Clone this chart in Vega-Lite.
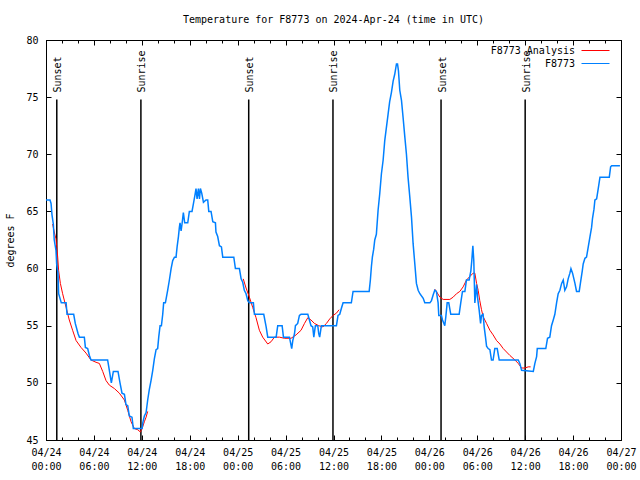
{
  "$schema": "https://vega.github.io/schema/vega-lite/v6.json",
  "width": 575,
  "height": 400,
  "autosize": {"type": "none"},
  "padding": {"left": 46, "top": 40, "right": 19, "bottom": 40},
  "background": "white",
  "title": {"text": "Temperature for F8773 on 2024-Apr-24 (time in UTC)", "offset": 10},
  "config": {
    "view": {"stroke": "black", "strokeWidth": 1},
    "axis": {"domainColor": "black", "tickColor": "black", "labelColor": "black", "titleColor": "black", "labelFont": "DejaVu Sans Mono", "labelFontSize": 10, "titleFont": "DejaVu Sans Mono", "titleFontSize": 10, "titleFontWeight": "normal", "grid": false, "labelFlush": false, "labelOverlap": false},
    "title": {"font": "DejaVu Sans Mono", "fontSize": 10, "fontWeight": "normal", "color": "black"},
    "legend": {"labelFont": "DejaVu Sans Mono", "labelFontSize": 10, "labelColor": "black"}
  },
  "resolve": {"axis": {"x": "independent", "y": "independent"}},
  "datasets": {
    "obs": [
      {"time":"2024-04-24T00:00Z","temp":66},{"time":"2024-04-24T00:30Z","temp":66},{"time":"2024-04-24T00:38Z","temp":65.7},{"time":"2024-04-24T00:45Z","temp":64.7},{"time":"2024-04-24T00:55Z","temp":63.9},{"time":"2024-04-24T01:02Z","temp":62.5},{"time":"2024-04-24T01:15Z","temp":61.6},{"time":"2024-04-24T01:20Z","temp":60.4},{"time":"2024-04-24T01:30Z","temp":59.6},{"time":"2024-04-24T01:35Z","temp":57.8},{"time":"2024-04-24T01:55Z","temp":57},{"time":"2024-04-24T02:31Z","temp":57},{"time":"2024-04-24T02:38Z","temp":56},{"time":"2024-04-24T03:28Z","temp":56},{"time":"2024-04-24T03:40Z","temp":55.2},{"time":"2024-04-24T04:01Z","temp":54.3},{"time":"2024-04-24T04:11Z","temp":54},{"time":"2024-04-24T04:48Z","temp":54},{"time":"2024-04-24T04:56Z","temp":53.1},{"time":"2024-04-24T05:13Z","temp":53},{"time":"2024-04-24T05:26Z","temp":52.4},{"time":"2024-04-24T05:38Z","temp":52},{"time":"2024-04-24T07:43Z","temp":52},{"time":"2024-04-24T07:56Z","temp":51.1},{"time":"2024-04-24T08:11Z","temp":50},{"time":"2024-04-24T08:26Z","temp":51},{"time":"2024-04-24T09:01Z","temp":51},{"time":"2024-04-24T09:16Z","temp":50},{"time":"2024-04-24T09:31Z","temp":49.1},{"time":"2024-04-24T09:49Z","temp":49},{"time":"2024-04-24T10:01Z","temp":48.1},{"time":"2024-04-24T10:14Z","temp":48},{"time":"2024-04-24T10:26Z","temp":47.1},{"time":"2024-04-24T10:46Z","temp":47},{"time":"2024-04-24T10:56Z","temp":46},{"time":"2024-04-24T12:02Z","temp":46},{"time":"2024-04-24T12:07Z","temp":46.5},{"time":"2024-04-24T12:19Z","temp":47.1},{"time":"2024-04-24T12:32Z","temp":47.4},{"time":"2024-04-24T12:44Z","temp":48.5},{"time":"2024-04-24T12:56Z","temp":49.4},{"time":"2024-04-24T13:09Z","temp":50.2},{"time":"2024-04-24T13:22Z","temp":51.1},{"time":"2024-04-24T13:34Z","temp":52.1},{"time":"2024-04-24T13:47Z","temp":52.9},{"time":"2024-04-24T13:59Z","temp":53},{"time":"2024-04-24T14:07Z","temp":54},{"time":"2024-04-24T14:17Z","temp":55},{"time":"2024-04-24T14:27Z","temp":55},{"time":"2024-04-24T14:37Z","temp":56},{"time":"2024-04-24T14:44Z","temp":57},{"time":"2024-04-24T14:57Z","temp":57},{"time":"2024-04-24T15:14Z","temp":58.1},{"time":"2024-04-24T15:27Z","temp":59},{"time":"2024-04-24T15:40Z","temp":60},{"time":"2024-04-24T15:52Z","temp":60.7},{"time":"2024-04-24T16:05Z","temp":61},{"time":"2024-04-24T16:17Z","temp":61},{"time":"2024-04-24T16:25Z","temp":61.9},{"time":"2024-04-24T16:35Z","temp":62.8},{"time":"2024-04-24T16:42Z","temp":63.6},{"time":"2024-04-24T16:47Z","temp":64},{"time":"2024-04-24T16:55Z","temp":63.3},{"time":"2024-04-24T17:02Z","temp":63.9},{"time":"2024-04-24T17:12Z","temp":64.9},{"time":"2024-04-24T17:22Z","temp":64},{"time":"2024-04-24T17:45Z","temp":64},{"time":"2024-04-24T17:57Z","temp":65},{"time":"2024-04-24T18:17Z","temp":65},{"time":"2024-04-24T18:28Z","temp":65.7},{"time":"2024-04-24T18:40Z","temp":66.5},{"time":"2024-04-24T18:47Z","temp":67},{"time":"2024-04-24T18:55Z","temp":66.1},{"time":"2024-04-24T19:05Z","temp":67},{"time":"2024-04-24T19:13Z","temp":66.1},{"time":"2024-04-24T19:20Z","temp":67},{"time":"2024-04-24T19:30Z","temp":66.6},{"time":"2024-04-24T19:43Z","temp":65.8},{"time":"2024-04-24T20:02Z","temp":66},{"time":"2024-04-24T20:15Z","temp":66},{"time":"2024-04-24T20:23Z","temp":65},{"time":"2024-04-24T20:40Z","temp":65},{"time":"2024-04-24T20:53Z","temp":64.1},{"time":"2024-04-24T21:13Z","temp":64},{"time":"2024-04-24T21:17Z","temp":63.2},{"time":"2024-04-24T21:30Z","temp":62.8},{"time":"2024-04-24T21:43Z","temp":62},{"time":"2024-04-24T21:58Z","temp":61.9},{"time":"2024-04-24T22:08Z","temp":61},{"time":"2024-04-24T23:31Z","temp":61},{"time":"2024-04-24T23:43Z","temp":60},
      {"time":"2024-04-25T00:13Z","temp":60},{"time":"2024-04-25T00:26Z","temp":59.1},{"time":"2024-04-25T00:38Z","temp":58.8},{"time":"2024-04-25T00:50Z","temp":58.1},{"time":"2024-04-25T01:03Z","temp":57.8},{"time":"2024-04-25T01:16Z","temp":57.2},{"time":"2024-04-25T01:28Z","temp":57},{"time":"2024-04-25T01:58Z","temp":57},{"time":"2024-04-25T02:06Z","temp":56},{"time":"2024-04-25T03:16Z","temp":56},{"time":"2024-04-25T03:34Z","temp":54.9},{"time":"2024-04-25T03:46Z","temp":54},{"time":"2024-04-25T04:49Z","temp":54},{"time":"2024-04-25T05:01Z","temp":55},{"time":"2024-04-25T05:34Z","temp":55},{"time":"2024-04-25T05:44Z","temp":54},{"time":"2024-04-25T06:29Z","temp":54},{"time":"2024-04-25T06:46Z","temp":53},{"time":"2024-04-25T06:54Z","temp":53.7},{"time":"2024-04-25T07:07Z","temp":54.3},{"time":"2024-04-25T07:14Z","temp":55},{"time":"2024-04-25T07:31Z","temp":55.2},{"time":"2024-04-25T07:44Z","temp":55.9},{"time":"2024-04-25T07:56Z","temp":56},{"time":"2024-04-25T08:47Z","temp":56},{"time":"2024-04-25T08:59Z","temp":55.5},{"time":"2024-04-25T09:11Z","temp":55},{"time":"2024-04-25T09:24Z","temp":54.9},{"time":"2024-04-25T09:32Z","temp":54},{"time":"2024-04-25T09:44Z","temp":55},{"time":"2024-04-25T10:02Z","temp":55},{"time":"2024-04-25T10:09Z","temp":54.3},{"time":"2024-04-25T10:16Z","temp":54},{"time":"2024-04-25T10:29Z","temp":55},{"time":"2024-04-25T12:22Z","temp":55},{"time":"2024-04-25T12:34Z","temp":55.9},{"time":"2024-04-25T12:47Z","temp":56},{"time":"2024-04-25T12:59Z","temp":56.5},{"time":"2024-04-25T13:12Z","temp":57},{"time":"2024-04-25T14:14Z","temp":57},{"time":"2024-04-25T14:27Z","temp":58},{"time":"2024-04-25T16:28Z","temp":58},{"time":"2024-04-25T16:37Z","temp":59},{"time":"2024-04-25T16:45Z","temp":60.2},{"time":"2024-04-25T16:52Z","temp":61},{"time":"2024-04-25T17:02Z","temp":61.7},{"time":"2024-04-25T17:10Z","temp":62.5},{"time":"2024-04-25T17:22Z","temp":63},{"time":"2024-04-25T17:35Z","temp":65.1},{"time":"2024-04-25T17:47Z","temp":66.5},{"time":"2024-04-25T18:00Z","temp":68.3},{"time":"2024-04-25T18:13Z","temp":69.5},{"time":"2024-04-25T18:25Z","temp":71.2},{"time":"2024-04-25T18:38Z","temp":72.4},{"time":"2024-04-25T18:50Z","temp":73.5},{"time":"2024-04-25T19:02Z","temp":74.6},{"time":"2024-04-25T19:15Z","temp":75.4},{"time":"2024-04-25T19:28Z","temp":76.4},{"time":"2024-04-25T19:40Z","temp":77},{"time":"2024-04-25T19:53Z","temp":77.9},{"time":"2024-04-25T20:01Z","temp":77.9},{"time":"2024-04-25T20:08Z","temp":77.3},{"time":"2024-04-25T20:18Z","temp":75.6},{"time":"2024-04-25T20:31Z","temp":74.7},{"time":"2024-04-25T20:43Z","temp":73.2},{"time":"2024-04-25T20:56Z","temp":71.5},{"time":"2024-04-25T21:08Z","temp":70},{"time":"2024-04-25T21:20Z","temp":68},{"time":"2024-04-25T21:33Z","temp":66.3},{"time":"2024-04-25T21:46Z","temp":64.5},{"time":"2024-04-25T21:58Z","temp":62.2},{"time":"2024-04-25T22:11Z","temp":60.4},{"time":"2024-04-25T22:23Z","temp":58.7},{"time":"2024-04-25T22:36Z","temp":58.1},{"time":"2024-04-25T22:49Z","temp":57.8},{"time":"2024-04-25T23:14Z","temp":57.4},{"time":"2024-04-25T23:26Z","temp":57},
      {"time":"2024-04-26T00:04Z","temp":57},{"time":"2024-04-26T00:16Z","temp":57.2},{"time":"2024-04-26T00:29Z","temp":57.7},{"time":"2024-04-26T00:41Z","temp":58.1},{"time":"2024-04-26T00:53Z","temp":58},{"time":"2024-04-26T01:06Z","temp":57},{"time":"2024-04-26T01:11Z","temp":55.9},{"time":"2024-04-26T01:31Z","temp":55.9},{"time":"2024-04-26T01:39Z","temp":55.5},{"time":"2024-04-26T01:56Z","temp":55},{"time":"2024-04-26T02:04Z","temp":55.8},{"time":"2024-04-26T02:14Z","temp":57},{"time":"2024-04-26T02:26Z","temp":57},{"time":"2024-04-26T02:41Z","temp":56},{"time":"2024-04-26T03:44Z","temp":56},{"time":"2024-04-26T03:56Z","temp":57},{"time":"2024-04-26T04:09Z","temp":58},{"time":"2024-04-26T04:27Z","temp":58},{"time":"2024-04-26T04:39Z","temp":59},{"time":"2024-04-26T04:59Z","temp":59},{"time":"2024-04-26T05:12Z","temp":59.8},{"time":"2024-04-26T05:19Z","temp":60.7},{"time":"2024-04-26T05:27Z","temp":62},{"time":"2024-04-26T05:34Z","temp":60.7},{"time":"2024-04-26T05:42Z","temp":57},{"time":"2024-04-26T05:55Z","temp":58.6},{"time":"2024-04-26T06:02Z","temp":57.5},{"time":"2024-04-26T06:14Z","temp":56.4},{"time":"2024-04-26T06:25Z","temp":55.2},{"time":"2024-04-26T06:32Z","temp":55.9},{"time":"2024-04-26T06:44Z","temp":56},{"time":"2024-04-26T06:52Z","temp":54.9},{"time":"2024-04-26T07:02Z","temp":54},{"time":"2024-04-26T07:10Z","temp":53.2},{"time":"2024-04-26T07:22Z","temp":53},{"time":"2024-04-26T07:35Z","temp":52.9},{"time":"2024-04-26T07:47Z","temp":52},{"time":"2024-04-26T07:59Z","temp":52},{"time":"2024-04-26T08:12Z","temp":53},{"time":"2024-04-26T08:30Z","temp":53},{"time":"2024-04-26T08:45Z","temp":52},{"time":"2024-04-26T11:08Z","temp":52},{"time":"2024-04-26T11:20Z","temp":51.7},{"time":"2024-04-26T11:33Z","temp":51.1},{"time":"2024-04-26T13:01Z","temp":51},{"time":"2024-04-26T13:13Z","temp":51.7},{"time":"2024-04-26T13:26Z","temp":52.3},{"time":"2024-04-26T13:31Z","temp":53},{"time":"2024-04-26T14:35Z","temp":53},{"time":"2024-04-26T14:48Z","temp":53.9},{"time":"2024-04-26T15:05Z","temp":54},{"time":"2024-04-26T15:18Z","temp":55},{"time":"2024-04-26T15:31Z","temp":55.5},{"time":"2024-04-26T15:43Z","temp":56},{"time":"2024-04-26T15:56Z","temp":57},{"time":"2024-04-26T16:08Z","temp":57.8},{"time":"2024-04-26T16:21Z","temp":58.1},{"time":"2024-04-26T16:34Z","temp":58.7},{"time":"2024-04-26T16:46Z","temp":59},{"time":"2024-04-26T16:58Z","temp":58.1},{"time":"2024-04-26T17:11Z","temp":58.4},{"time":"2024-04-26T17:23Z","temp":59.1},{"time":"2024-04-26T17:36Z","temp":59.6},{"time":"2024-04-26T17:44Z","temp":60},{"time":"2024-04-26T17:56Z","temp":59.6},{"time":"2024-04-26T18:14Z","temp":58.7},{"time":"2024-04-26T18:26Z","temp":58},{"time":"2024-04-26T18:46Z","temp":58},{"time":"2024-04-26T18:56Z","temp":58.8},{"time":"2024-04-26T19:09Z","temp":59.8},{"time":"2024-04-26T19:16Z","temp":60.4},{"time":"2024-04-26T19:29Z","temp":60.9},{"time":"2024-04-26T19:41Z","temp":61},{"time":"2024-04-26T19:54Z","temp":61.9},{"time":"2024-04-26T20:07Z","temp":62.8},{"time":"2024-04-26T20:19Z","temp":63.6},{"time":"2024-04-26T20:26Z","temp":64.4},{"time":"2024-04-26T20:37Z","temp":65.2},{"time":"2024-04-26T20:44Z","temp":66},{"time":"2024-04-26T20:57Z","temp":66.1},{"time":"2024-04-26T21:09Z","temp":67},{"time":"2024-04-26T21:22Z","temp":68},{"time":"2024-04-26T22:32Z","temp":68},{"time":"2024-04-26T22:42Z","temp":68.9},{"time":"2024-04-26T22:50Z","temp":69},{"time":"2024-04-26T23:52Z","temp":69}
    ],
    "analysis": [
      {"seg":1,"time":"2024-04-24T00:50Z","temp":63.9},{"seg":1,"time":"2024-04-24T01:02Z","temp":63.2},{"seg":1,"time":"2024-04-24T01:15Z","temp":62.6},{"seg":1,"time":"2024-04-24T01:28Z","temp":61},{"seg":1,"time":"2024-04-24T01:35Z","temp":59.8},{"seg":1,"time":"2024-04-24T01:48Z","temp":58.7},{"seg":1,"time":"2024-04-24T02:05Z","temp":57.8},{"seg":1,"time":"2024-04-24T02:31Z","temp":56.6},{"seg":1,"time":"2024-04-24T02:55Z","temp":55.5},{"seg":1,"time":"2024-04-24T03:20Z","temp":54.6},{"seg":1,"time":"2024-04-24T03:46Z","temp":53.7},{"seg":1,"time":"2024-04-24T04:23Z","temp":53.1},{"seg":1,"time":"2024-04-24T05:01Z","temp":52.6},{"seg":1,"time":"2024-04-24T05:38Z","temp":52},{"seg":1,"time":"2024-04-24T06:16Z","temp":51.8},{"seg":1,"time":"2024-04-24T06:41Z","temp":51.7},{"seg":1,"time":"2024-04-24T07:06Z","temp":51},{"seg":1,"time":"2024-04-24T07:31Z","temp":50.2},{"seg":1,"time":"2024-04-24T07:56Z","temp":49.8},{"seg":1,"time":"2024-04-24T08:34Z","temp":49.5},{"seg":1,"time":"2024-04-24T09:11Z","temp":49.1},{"seg":1,"time":"2024-04-24T09:49Z","temp":48.5},{"seg":1,"time":"2024-04-24T10:14Z","temp":47.6},{"seg":1,"time":"2024-04-24T10:39Z","temp":46.6},{"seg":1,"time":"2024-04-24T11:04Z","temp":46},{"seg":1,"time":"2024-04-24T11:29Z","temp":45.9},{"seg":1,"time":"2024-04-24T11:49Z","temp":45.7},{"seg":1,"time":"2024-04-24T12:02Z","temp":46},{"seg":1,"time":"2024-04-24T12:19Z","temp":46.6},{"seg":1,"time":"2024-04-24T12:32Z","temp":47},{"seg":1,"time":"2024-04-24T12:44Z","temp":47.5},
      {"seg":2,"time":"2024-04-25T00:42Z","temp":59.1},{"seg":2,"time":"2024-04-25T01:03Z","temp":58.3},{"seg":2,"time":"2024-04-25T01:28Z","temp":57.5},{"seg":2,"time":"2024-04-25T01:53Z","temp":56.6},{"seg":2,"time":"2024-04-25T02:18Z","temp":55.7},{"seg":2,"time":"2024-04-25T02:43Z","temp":54.6},{"seg":2,"time":"2024-04-25T03:08Z","temp":54},{"seg":2,"time":"2024-04-25T03:46Z","temp":53.4},{"seg":2,"time":"2024-04-25T04:11Z","temp":53.6},{"seg":2,"time":"2024-04-25T04:36Z","temp":54},{"seg":2,"time":"2024-04-25T05:14Z","temp":54},{"seg":2,"time":"2024-04-25T05:51Z","temp":53.9},{"seg":2,"time":"2024-04-25T06:41Z","temp":53.9},{"seg":2,"time":"2024-04-25T07:19Z","temp":54.2},{"seg":2,"time":"2024-04-25T07:56Z","temp":54.6},{"seg":2,"time":"2024-04-25T08:22Z","temp":55.2},{"seg":2,"time":"2024-04-25T08:47Z","temp":55.7},{"seg":2,"time":"2024-04-25T09:11Z","temp":55.5},{"seg":2,"time":"2024-04-25T09:37Z","temp":55.2},{"seg":2,"time":"2024-04-25T10:09Z","temp":55},{"seg":2,"time":"2024-04-25T10:41Z","temp":54.9},{"seg":2,"time":"2024-04-25T11:07Z","temp":55.2},{"seg":2,"time":"2024-04-25T11:32Z","temp":55.6},{"seg":2,"time":"2024-04-25T11:57Z","temp":55.9},{"seg":2,"time":"2024-04-25T12:22Z","temp":56.1},{"seg":2,"time":"2024-04-25T12:42Z","temp":56.4},
      {"seg":3,"time":"2024-04-26T00:41Z","temp":58.2},{"seg":3,"time":"2024-04-26T00:53Z","temp":58},{"seg":3,"time":"2024-04-26T01:19Z","temp":57.5},{"seg":3,"time":"2024-04-26T01:44Z","temp":57.3},{"seg":3,"time":"2024-04-26T02:34Z","temp":57.3},{"seg":3,"time":"2024-04-26T02:59Z","temp":57.5},{"seg":3,"time":"2024-04-26T03:24Z","temp":57.8},{"seg":3,"time":"2024-04-26T03:49Z","temp":58},{"seg":3,"time":"2024-04-26T04:14Z","temp":58.4},{"seg":3,"time":"2024-04-26T04:39Z","temp":59},{"seg":3,"time":"2024-04-26T05:04Z","temp":59.3},{"seg":3,"time":"2024-04-26T05:29Z","temp":59.6},{"seg":3,"time":"2024-04-26T05:42Z","temp":59.6},{"seg":3,"time":"2024-04-26T05:55Z","temp":58.7},{"seg":3,"time":"2024-04-26T06:07Z","temp":58.1},{"seg":3,"time":"2024-04-26T06:19Z","temp":57.2},{"seg":3,"time":"2024-04-26T06:32Z","temp":56.4},{"seg":3,"time":"2024-04-26T06:44Z","temp":55.8},{"seg":3,"time":"2024-04-26T07:10Z","temp":55.2},{"seg":3,"time":"2024-04-26T07:35Z","temp":54.6},{"seg":3,"time":"2024-04-26T07:59Z","temp":54.2},{"seg":3,"time":"2024-04-26T08:25Z","temp":53.7},{"seg":3,"time":"2024-04-26T08:50Z","temp":53.4},{"seg":3,"time":"2024-04-26T09:15Z","temp":53},{"seg":3,"time":"2024-04-26T09:40Z","temp":52.7},{"seg":3,"time":"2024-04-26T10:05Z","temp":52.4},{"seg":3,"time":"2024-04-26T10:43Z","temp":52},{"seg":3,"time":"2024-04-26T11:08Z","temp":51.7},{"seg":3,"time":"2024-04-26T11:33Z","temp":51.3},{"seg":3,"time":"2024-04-26T11:58Z","temp":51.3},{"seg":3,"time":"2024-04-26T12:23Z","temp":51.4},{"seg":3,"time":"2024-04-26T12:41Z","temp":51.4}
    ],
    "sun": [
      {"time":"2024-04-24T01:21Z","event":"Sunset"},
      {"time":"2024-04-24T11:53Z","event":"Sunrise"},
      {"time":"2024-04-25T01:23Z","event":"Sunset"},
      {"time":"2024-04-25T11:56Z","event":"Sunrise"},
      {"time":"2024-04-26T01:28Z","event":"Sunset"},
      {"time":"2024-04-26T12:00Z","event":"Sunrise"}
    ]
  },
  "layer": [
    {
      "data": {"name": "sun"},
      "mark": {"type": "rule", "color": "black", "strokeWidth": 1.5},
      "encoding": {
        "x": {"field": "time", "type": "temporal",
          "scale": {"nice": false, "domain": [1713916800000, 1714176000000]},
          "axis": {"orient": "top", "title": null, "labels": false, "domain": false, "tickSize": -5,
            "values": [1713916800000,1713938400000,1713960000000,1713981600000,1714003200000,1714024800000,1714046400000,1714068000000,1714089600000,1714111200000,1714132800000,1714154400000,1714176000000]}},
        "y": {"datum": 74.8, "type": "quantitative",
          "scale": {"domain": [45, 80], "nice": false, "zero": false},
          "axis": {"orient": "right", "title": null, "labels": false, "domain": false, "values": [45,50,55,60,65,70,75,80], "tickSize": -5}},
        "y2": {"datum": 45}
      }
    },
    {
      "data": {"name": "sun"},
      "mark": {"type": "text", "angle": 270, "align": "left", "baseline": "middle", "dy": 1.5, "font": "DejaVu Sans Mono", "fontSize": 10, "color": "black"},
      "encoding": {
        "x": {"field": "time", "type": "temporal",
          "scale": {"nice": false, "domain": [1713916800000, 1714176000000]},
          "axis": {"orient": "top", "title": null, "labels": false, "domain": false, "tickSize": -3,
            "values": [1713916800000,1713924000000,1713931200000,1713938400000,1713945600000,1713952800000,1713960000000,1713967200000,1713974400000,1713981600000,1713988800000,1713996000000,1714003200000,1714010400000,1714017600000,1714024800000,1714032000000,1714039200000,1714046400000,1714053600000,1714060800000,1714068000000,1714075200000,1714082400000,1714089600000,1714096800000,1714104000000,1714111200000,1714118400000,1714125600000,1714132800000,1714140000000,1714147200000,1714154400000,1714161600000,1714168800000,1714176000000]}},
        "y": {"datum": 75.4, "type": "quantitative", "axis": null, "scale": {"domain": [45, 80], "nice": false, "zero": false}},
        "text": {"field": "event", "type": "nominal"}
      }
    },
    {
      "data": {"name": "analysis"},
      "mark": {"type": "line", "strokeWidth": 1},
      "encoding": {
        "x": {"field": "time", "type": "temporal",
          "scale": {"nice": false, "domain": [1713916800000, 1714176000000]},
          "axis": {"orient": "bottom", "title": null, "labels": false, "domain": false, "tickSize": -3,
            "values": [1713916800000,1713924000000,1713931200000,1713938400000,1713945600000,1713952800000,1713960000000,1713967200000,1713974400000,1713981600000,1713988800000,1713996000000,1714003200000,1714010400000,1714017600000,1714024800000,1714032000000,1714039200000,1714046400000,1714053600000,1714060800000,1714068000000,1714075200000,1714082400000,1714089600000,1714096800000,1714104000000,1714111200000,1714118400000,1714125600000,1714132800000,1714140000000,1714147200000,1714154400000,1714161600000,1714168800000,1714176000000]}},
        "y": {"field": "temp", "type": "quantitative", "axis": null, "scale": {"domain": [45, 80], "nice": false, "zero": false}},
        "detail": {"field": "seg", "type": "nominal"},
        "color": {"datum": "F8773 Analysis", "type": "nominal",
          "scale": {"domain": ["F8773 Analysis", "F8773"], "range": ["#ff0000", "#0080ff"]},
          "legend": {"orient": "none", "legendX": 544, "legendY": 5, "title": null, "symbolType": "M-2.8,0H2.8", "symbolSize": 100, "symbolStrokeWidth": 1, "labelAlign": "right", "labelOffset": -26, "rowPadding": 2, "padding": 0,
            "encode": {"symbols": {"update": {"stroke": {"scale": "color", "field": "value"}, "fill": {"value": "transparent"}}}}}}
      }
    },
    {
      "data": {"name": "obs"},
      "mark": {"type": "line", "strokeWidth": 1.5},
      "encoding": {
        "x": {"field": "time", "type": "temporal",
          "scale": {"nice": false, "domain": [1713916800000, 1714176000000]},
          "axis": {"orient": "bottom", "title": null, "tickSize": -5,
            "values": [1713916800000,1713938400000,1713960000000,1713981600000,1714003200000,1714024800000,1714046400000,1714068000000,1714089600000,1714111200000,1714132800000,1714154400000,1714176000000],
            "labelPadding": 12, "labelLineHeight": 14,
            "labelExpr": "[utcFormat(datum.value, '%m/%d'), utcFormat(datum.value, '%H:%M')]"}},
        "y": {"field": "temp", "type": "quantitative",
          "scale": {"domain": [45, 80], "nice": false, "zero": false},
          "axis": {"orient": "left", "title": "degrees F", "values": [45,50,55,60,65,70,75,80], "tickSize": -5, "labelPadding": 13, "titlePadding": 10}},
        "color": {"datum": "F8773", "type": "nominal",
          "scale": {"domain": ["F8773 Analysis", "F8773"], "range": ["#ff0000", "#0080ff"]}}
      }
    }
  ]
}
